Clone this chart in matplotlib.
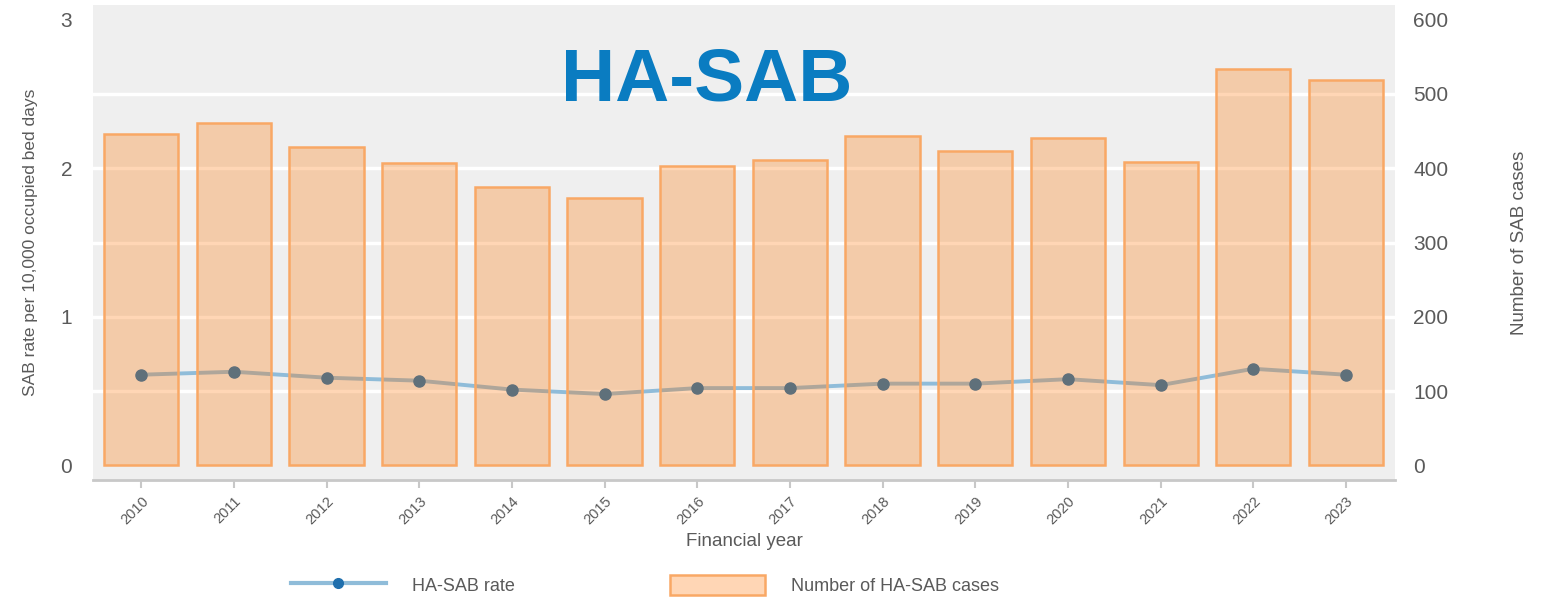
import matplotlib.pyplot as plt
from matplotlib.patches import Patch
from matplotlib.lines import Line2D
import numpy as np

plt.rcParams['font.family'] = ['Liberation Sans', 'DejaVu Sans']

# data
years = [2010, 2011, 2012, 2013, 2014, 2015, 2016, 2017, 2018, 2019, 2020, 2021, 2022, 2023]
cases = [446, 461, 429, 407, 375, 360, 403, 411, 444, 423, 441, 408, 533, 519]
rate = [0.61, 0.63, 0.59, 0.57, 0.51, 0.48, 0.52, 0.52, 0.55, 0.55, 0.58, 0.54, 0.65, 0.61]
left_ticks = [0, 1, 2, 3]
right_ticks = [0, 100, 200, 300, 400, 500, 600]
grid_levels = [0.5, 1, 1.5, 2, 2.5]

grey = '#5a5a5a'
bar_face = (1.0, 0.45, 0.0, 0.29)
bar_edge = '#f9a865'
line_col = '#8fbcd9'
dot_col = '#1f6fad'

fig = plt.figure(figsize=(15.57, 6.01), dpi=100)
ax = fig.add_axes([0.0597, 0.201, 0.8363, 0.791])
ax2 = ax.twinx()

ax.set_facecolor('#efefef')
ax2.patch.set_visible(False)

for g in grid_levels:
    ax.axhline(g, color='white', lw=2.5, zorder=1)

# rate line sits under the translucent bars
ax.plot(years, rate, color=line_col, lw=2.8, marker='o', ms=8,
        mfc=dot_col, mec=dot_col, zorder=3)
ax2.bar(years, cases, width=0.8, facecolor=bar_face,
        edgecolor=bar_edge, linewidth=1.8, zorder=2)

ax.set_xlim(2009.48, 2023.53)
ax.set_ylim(-0.1, 3.1)
ax2.set_ylim(-20, 620)
ax.set_yticks(left_ticks)
ax2.set_yticks(right_ticks)

ax.set_xticks(years)
ax.set_xticklabels([str(y) for y in years], rotation=45, ha='right',
                   rotation_mode='anchor', fontsize=10.5, color=grey)
ax.tick_params(axis='x', length=6, width=1.5, color='#c8c8c8', pad=4)
ax.tick_params(axis='y', length=0, labelsize=15, labelcolor=grey, pad=15)
ax2.tick_params(axis='y', length=0, labelsize=15, labelcolor=grey, pad=13)

for a in (ax, ax2):
    for s in ['top', 'left', 'right', 'bottom']:
        a.spines[s].set_visible(False)
ax.spines['bottom'].set_visible(True)
ax.spines['bottom'].set_color('#c8c8c8')
ax.spines['bottom'].set_linewidth(2)

ax.set_xlabel('Financial year', fontsize=13.5, color=grey, labelpad=4)
ax.set_ylabel('SAB rate per 10,000 occupied bed days', fontsize=12.5, color=grey, labelpad=16)
ax2.set_ylabel('Number of SAB cases', fontsize=13.5, color=grey, labelpad=45)

fig.text(0.454, 0.866, 'HA-SAB', fontsize=54, fontweight='bold', color='#0a7cc1',
         ha='center', va='center')

handles = [Line2D([0], [0], color=line_col, lw=3, marker='o', ms=7,
                  mfc=dot_col, mec=dot_col),
           Patch(facecolor=bar_face, edgecolor=bar_edge, lw=1.8)]
fig.legend(handles, ['HA-SAB rate', 'Number of HA-SAB cases'], loc='center',
           bbox_to_anchor=(0.414, 0.027), ncol=2, frameon=False, fontsize=13,
           handlelength=5.3, handleheight=1.3, handletextpad=1.4, columnspacing=8.6,
           labelcolor=grey)

fig.savefig('out.png', dpi=100)
